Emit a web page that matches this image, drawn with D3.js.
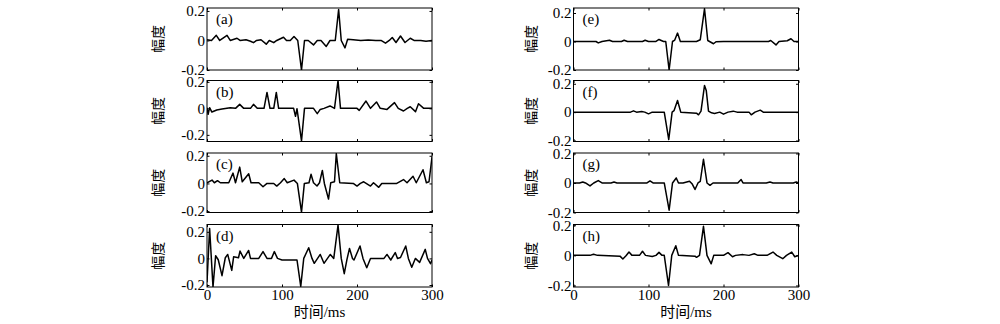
<!DOCTYPE html>
<html>
<head>
<meta charset="utf-8">
<script src="https://cdn.jsdelivr.net/npm/d3@7"></script>
<style>
  body { margin: 0; background: #fff; }
  text { font-family: "Liberation Serif", "Times New Roman", "Noto Sans CJK SC", serif; }
</style>
</head>
<body>
<div id="chart"></div>
<script>
// values, [time ms, amplitude]
const seriesA = [[0,0.005],[6,0],[12.4,0.035],[17,0],[26.7,0.035],[31,0],[40,0.015],[44,0],[52,0.005],[58,-0.005],[62,-0.015],[66,0],[72,0.005],[79,-0.025],[83,0],[89,-0.015],[93,0],[102,0.022],[106,0],[111,0],[116,0.027],[121,0],[126,-0.2],[130,0],[135,0],[142,-0.03],[147,0],[152,0],[159,-0.04],[164,0],[171,0],[175.5,0.21],[179,0],[184,-0.05],[187.5,0.008],[195,0.005],[205,0],[215,0.003],[225,0],[232,0],[238,-0.018],[243,0],[247,0.02],[252,-0.014],[258,0.03],[264,-0.014],[271,0.015],[276,0],[285,0],[292,-0.005],[300,0]];
const seriesB = [[0,0.005],[1.5,-0.045],[3.5,0.005],[6.5,-0.028],[13,-0.012],[20,-0.005],[31,0.005],[38,0],[43.6,0.03],[49,0],[58,0],[62,0.03],[67,0],[76,0],[80,0.12],[84,0],[89,0],[92.4,0.12],[95.5,0],[115.5,0],[118,-0.06],[120,-0.003],[126,-0.245],[130,0],[142,0],[147,-0.04],[151,-0.008],[156,0],[164,0.018],[170,0],[174.7,0.21],[178,0],[200,0],[203,-0.015],[212,0.055],[218,0],[226,0.048],[231,0],[240,-0.008],[250,0.043],[255,0],[262,-0.02],[267,0],[271,0.012],[278,-0.025],[282,0.035],[289,0],[300,0]];
const seriesC = [[0,0.005],[6.7,0.024],[9.8,0.005],[14,0.02],[17.8,0.005],[29,0.005],[34.7,0.075],[38,0.005],[43.6,0.118],[47,0.012],[55.6,0.07],[58.7,0.005],[69,0.005],[74.7,-0.024],[80,0],[89,0],[93,-0.019],[98,0.005],[103,0.035],[107,0.005],[116,0.024],[120.5,0],[126,-0.207],[129.8,0],[136,0.005],[138.7,0.066],[142,0.005],[146.7,-0.019],[150,0.005],[153.8,0.094],[156.5,0],[162,-0.113],[165,0.005],[170,0.012],[172.4,0.216],[177,0.005],[195,0],[200,-0.019],[204.5,0],[209,0.012],[218,-0.019],[222,0.005],[229,-0.028],[233,0],[253,0],[262,0.028],[266.7,0.005],[274.7,0.052],[279,0.005],[288,0.099],[292.5,0.005],[296,0.012],[300,0.19]];
const seriesD = [[0,-0.18],[3.5,0.225],[8,-0.215],[11.5,0.02],[15,-0.01],[20,-0.13],[24.4,0.005],[27.6,0.03],[33,-0.09],[35.5,0.012],[42,0.005],[44,0.055],[49,0],[55.5,0.06],[58,0],[69,0],[74.7,0.051],[80,0],[86,0],[89.8,0.051],[94,0],[100,-0.012],[120,-0.012],[125,-0.21],[129,0],[135.6,0.08],[140,0],[143,-0.037],[151,0.03],[156,-0.037],[164.4,0.03],[169,0],[174.7,0.25],[179,0],[183,-0.115],[186.7,-0.005],[190,0.075],[194,0],[196,-0.012],[204,0.093],[208,0],[213,-0.07],[218,0],[236,0],[240,0.03],[245,-0.012],[251,0.044],[254,0],[258,0.007],[265,0.093],[268.5,0],[273,-0.066],[277.8,0],[283.5,-0.03],[291,0.068],[294,0],[298,-0.04],[300,-0.012]];
const seriesE = [[0,0],[30,0],[33,-0.01],[38,0],[48,0.009],[52,0],[64,0],[67.5,0.009],[72,0],[92,0],[95.5,0.009],[100,0],[110,0],[114,0.014],[120,0],[123,0],[127.5,-0.2],[132,0],[135,0.01],[138.7,0.059],[142.5,0],[164,0],[169,0.012],[174.7,0.23],[179,0.007],[186.7,-0.016],[190,-0.002],[200,0],[260,0],[263,0.007],[270,-0.024],[274,0],[285,0.005],[290,0.019],[294,0],[300,0]];
const seriesF = [[0,0],[76,0],[80,0.009],[84,0],[91,0.005],[95,0],[100,-0.012],[105,0],[121,0],[127,-0.193],[131.5,0],[134,0.01],[138.7,0.082],[143,0],[164,-0.007],[166.7,-0.019],[170,0.007],[174.7,0.188],[177,0.153],[180,0.007],[184,-0.005],[188,-0.009],[195,0],[200,-0.014],[206,0],[213,0.007],[218,0],[234,0],[237,-0.019],[242,0],[249,0.014],[253,0],[300,0]];
const seriesG = [[0,0],[8,0],[12.4,0.007],[16,0],[22,-0.02],[27,0],[33,0.016],[38,0],[50,0],[54,0.007],[58,0],[98,0],[102,0.014],[106,0],[121,0],[127.5,-0.184],[132,0],[137,0.034],[140,0],[146,0],[154.7,0.012],[158,-0.005],[162,-0.044],[166,0],[169,0.01],[173.3,0.16],[178,0],[182,-0.016],[186,0],[219,0],[223.5,0.023],[226,0],[257,0],[262,0.007],[266,0],[293,0],[297,0.007],[300,0]];
const seriesH = [[0,0],[22,0],[26.7,0.007],[32,0],[62,-0.005],[65.8,-0.024],[70,-0.003],[74,0.022],[78,0],[88,0],[92,0.027],[96,0],[105,-0.007],[110,0],[114,0.02],[118,0],[121,0],[126.7,-0.2],[131,0],[136.4,0.064],[140,0],[162,-0.005],[164,-0.013],[168,0],[173.3,0.193],[178,0],[183.6,-0.056],[187,0],[200,0],[206,0.018],[212,-0.009],[216,0],[226,0.005],[234,0],[241,0.011],[246,0],[258,0],[266,0.022],[271,0],[279,-0.022],[284,0],[291,0.022],[295,-0.009],[300,0]];

const allSeries = [seriesA, seriesB, seriesC, seriesD, seriesE, seriesF, seriesG, seriesH];
const panelLabels = ["(a)", "(b)", "(c)", "(d)", "(e)", "(f)", "(g)", "(h)"];
const yDomains = [[-0.2,0.22],[-0.25,0.21],[-0.21,0.22],[-0.215,0.255],[-0.2,0.235],[-0.207,0.223],[-0.2,0.203],[-0.21,0.205]];
const xDomain = [0, 300];
const xTicks = [0, 100, 200, 300];
const yTicks = [-0.2, 0, 0.2];
const yTitle = "幅度";
const xTitle = "时间/ms";

const width = 1000, height = 324;
const colX = [[207, 432], [573.5, 798.5]];
const rowY = [[8, 70], [80.5, 141.5], [153, 212.5], [224.5, 287]];
const yTitleX = [156.5, 529.5];

const svg = d3.select("#chart").append("svg")
  .attr("width", width)
  .attr("height", height);

const fmt = d => d === 0 ? "0" : d.toFixed(1);

allSeries.forEach((data, i) => {
  const col = Math.floor(i / 4), row = i % 4;
  const x = d3.scaleLinear().domain(xDomain).range(colX[col]);
  const y = d3.scaleLinear().domain(yDomains[i]).range([rowY[row][1], rowY[row][0]]);
  const g = svg.append("g");

  g.append("clipPath").attr("id", "clip" + i)
    .append("rect")
    .attr("x", colX[col][0]).attr("y", rowY[row][0])
    .attr("width", colX[col][1] - colX[col][0])
    .attr("height", rowY[row][1] - rowY[row][0]);

  // ticks inside on all four sides
  const left = g.append("g").attr("transform", `translate(${colX[col][0]},0)`)
    .call(d3.axisLeft(y).tickValues(yTicks).tickSize(-2.5).tickPadding(2).tickFormat(fmt));
  const right = g.append("g").attr("transform", `translate(${colX[col][1]},0)`)
    .call(d3.axisRight(y).tickValues(yTicks).tickSize(-2.5).tickFormat(""));
  const top = g.append("g").attr("transform", `translate(0,${rowY[row][0]})`)
    .call(d3.axisTop(x).tickValues(xTicks).tickSize(-2.5).tickFormat(""));
  const bottom = g.append("g").attr("transform", `translate(0,${rowY[row][1]})`)
    .call(d3.axisBottom(x).tickValues(xTicks).tickSize(-2.5).tickPadding(2)
      .tickFormat(row === 3 ? d3.format("d") : ""));

  [left, right, top, bottom].forEach(a => {
    a.select(".domain").remove();
    a.selectAll("line").attr("stroke", "#000");
    a.selectAll("text")
      .attr("fill", "#000")
      .style("font-size", "15px")
      .style("font-family", '"Liberation Serif", "Times New Roman", serif');
  });

  const line = d3.line().x(d => x(d[0])).y(d => y(d[1]));
  g.append("path")
    .datum(data)
    .attr("clip-path", `url(#clip${i})`)
    .attr("fill", "none")
    .attr("stroke", "#000")
    .attr("stroke-width", 1.5)
    .attr("stroke-linejoin", "round")
    .attr("d", line);

  g.append("rect")
    .attr("x", colX[col][0]).attr("y", rowY[row][0])
    .attr("width", colX[col][1] - colX[col][0])
    .attr("height", rowY[row][1] - rowY[row][0])
    .attr("fill", "none")
    .attr("stroke", "#000")
    .attr("stroke-width", 1);

  g.append("text")
    .attr("x", colX[col][0] + 9)
    .attr("y", rowY[row][0] + 16)
    .attr("font-size", "15px")
    .text(panelLabels[i]);

  const my = (rowY[row][0] + rowY[row][1]) / 2;
  g.append("text")
    .attr("transform", `translate(${yTitleX[col]},${my}) rotate(-90)`)
    .attr("text-anchor", "middle")
    .attr("dominant-baseline", "central")
    .attr("font-size", "14px")
    .style("font-family", '"Noto Sans CJK SC", sans-serif')
    .text(yTitle);

  if (row === 3) {
    g.append("text")
      .attr("x", (colX[col][0] + colX[col][1]) / 2)
      .attr("y", 317)
      .attr("text-anchor", "middle")
      .attr("font-size", "15px")
      .text(xTitle);
  }
});
</script>
</body>
</html>
